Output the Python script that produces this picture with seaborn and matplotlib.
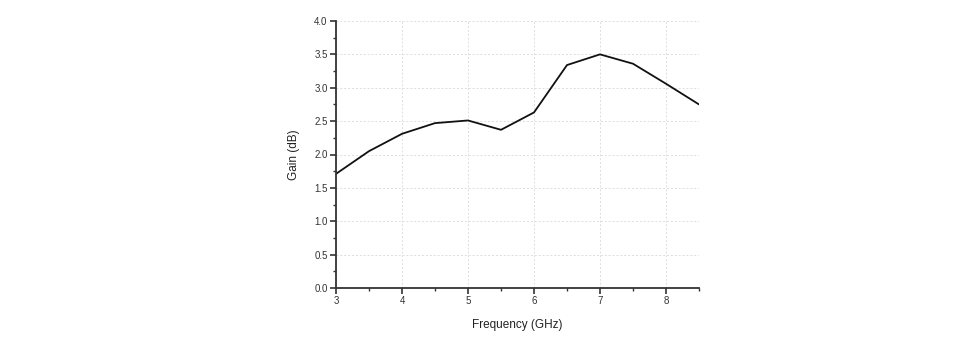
import matplotlib
matplotlib.use("Agg")
import matplotlib.pyplot as plt
import seaborn as sns
import pandas as pd
from matplotlib.ticker import MultipleLocator

freq = [3.0, 3.5, 4.0, 4.5, 5.0, 5.5, 6.0, 6.5, 7.0, 7.5, 8.0, 8.5]
gain = [1.71, 2.05, 2.31, 2.47, 2.51, 2.37, 2.63, 3.34, 3.50, 3.36, 3.06, 2.75]
x_ticks = [3, 4, 5, 6, 7, 8]
y_ticks = [0.0, 0.5, 1.0, 1.5, 2.0, 2.5, 3.0, 3.5, 4.0]

df = pd.DataFrame({"Frequency": freq, "Gain": gain})

sns.set_theme(style="ticks")
plt.rcParams["font.family"] = ["Liberation Sans", "DejaVu Sans"]

fig = plt.figure(figsize=(9.8, 3.5), dpi=100)
ax = fig.add_axes([336/980, 62/350, 363/980, 267/350])
sns.lineplot(data=df, x="Frequency", y="Gain", ax=ax, color="#111111", linewidth=1.3)

ax.set_xlim(3, 8.5)
ax.set_ylim(0, 4.0)
ax.set_xticks(x_ticks)
ax.set_yticks(y_ticks)
ax.set_yticklabels([f"{v:.1f}" for v in y_ticks])
ax.xaxis.set_minor_locator(MultipleLocator(0.5))
ax.yaxis.set_minor_locator(MultipleLocator(0.25))
ax.tick_params(which="major", direction="out", length=4, width=1.2, labelsize=7, colors="#333333", pad=2)
ax.tick_params(which="minor", direction="out", length=2.5, width=1.0, colors="#333333")
for s in ["top", "right"]:
    ax.spines[s].set_visible(False)
for s in ["left", "bottom"]:
    ax.spines[s].set_linewidth(1.3)
    ax.spines[s].set_color("#333333")
ax.grid(True, which="major", color="#dddddd", linestyle=(0, (2, 2)), linewidth=0.7)
ax.set_axisbelow(True)
ax.set_xlabel("Frequency (GHz)", fontsize=8.5, color="#222222", labelpad=9)
ax.set_ylabel("Gain (dB)", fontsize=8.5, color="#222222", labelpad=10)

fig.savefig("out.png", dpi=100)
